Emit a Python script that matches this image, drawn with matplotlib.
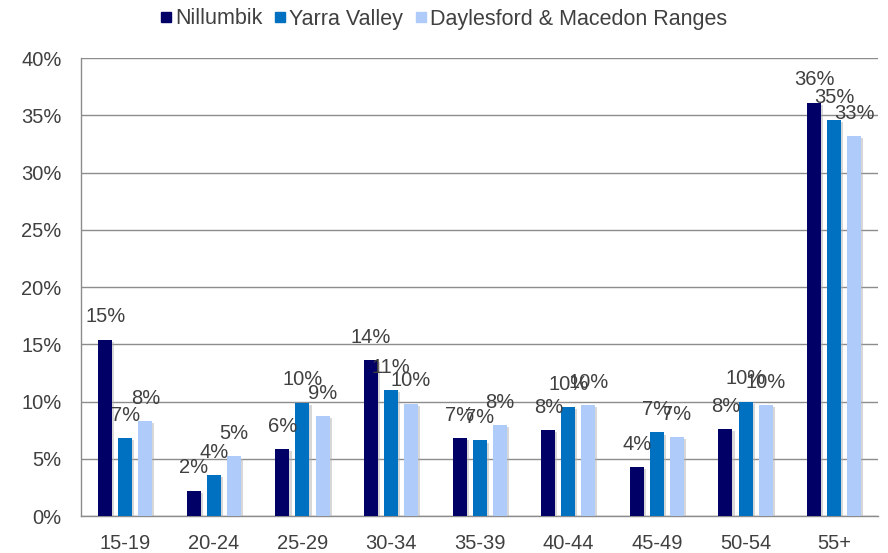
import matplotlib.pyplot as plt
import matplotlib.patheffects as pe
from matplotlib.lines import Line2D
import numpy as np

plt.rcParams['font.family'] = ['Liberation Sans', 'DejaVu Sans']

ages = ['15-19', '20-24', '25-29', '30-34', '35-39', '40-44', '45-49', '50-54', '55+']
nillumbik = [15.4, 2.2, 5.85, 13.6, 6.8, 7.5, 4.25, 7.6, 36.1]
yarra = [6.8, 3.55, 9.9, 11.0, 6.6, 9.5, 7.3, 10.0, 34.6]
daylesford = [8.3, 5.2, 8.7, 9.8, 7.95, 9.7, 6.9, 9.7, 33.2]
series = ['Nillumbik', 'Yarra Valley', 'Daylesford & Macedon Ranges']
colors = ['#000066', '#0070C0', '#AECBFA']

txt = '#404040'
grid = '#8c8c8c'

fig = plt.figure(figsize=(8.88, 5.53), dpi=100)
ax = fig.add_axes([0.0912, 0.0669, 0.898, 0.828])

x = np.arange(len(ages))
w = 0.158
step = 0.226
shadow = [pe.SimplePatchShadow(offset=(1.5, -1.5), shadow_rgbFace='#b0b0b0', alpha=0.5), pe.Normal()]
for i, (name, vals, c) in enumerate(zip(series, [nillumbik, yarra, daylesford], colors)):
    bars = ax.bar(x + (i - 1) * step, vals, w, color=c, zorder=3)
    for b in bars:
        b.set_path_effects(shadow)
    for b, v in zip(bars, vals):
        ax.annotate(f'{int(v + 0.5)}%', (b.get_x() + b.get_width() / 2, v),
                    xytext=(0, 12.5), textcoords='offset points',
                    ha='center', va='baseline', fontsize=14.5, color=txt, zorder=4)

ax.set_xlim(-0.5, len(ages) - 0.5)
ax.set_ylim(0, 40)
ax.set_yticks(range(0, 41, 5))
ax.set_yticklabels([f'{t}%' for t in range(0, 41, 5)])
ax.set_xticks(x)
ax.set_xticklabels(ages)
ax.yaxis.grid(True, color=grid, lw=1, zorder=0)
ax.set_axisbelow(True)
for s in ['top', 'right']:
    ax.spines[s].set_visible(False)
for s in ['left', 'bottom']:
    ax.spines[s].set_color(grid)
    ax.spines[s].set_linewidth(1)
ax.tick_params(axis='y', length=0, labelcolor=txt, labelsize=14.5, pad=14)
ax.tick_params(axis='x', length=0, labelcolor=txt, labelsize=14.5, pad=13)

handles = [Line2D([], [], marker='s', ls='', color=c, markersize=6.5) for c in colors]
fig.legend(handles, series, loc='center', bbox_to_anchor=(0.5, 1 - 19 / 553), ncol=3,
           frameon=False, fontsize=15.5, handlelength=0.45, handletextpad=0.2,
           columnspacing=0.6, labelcolor=txt, borderpad=0)

fig.savefig('out.png', dpi=100)
